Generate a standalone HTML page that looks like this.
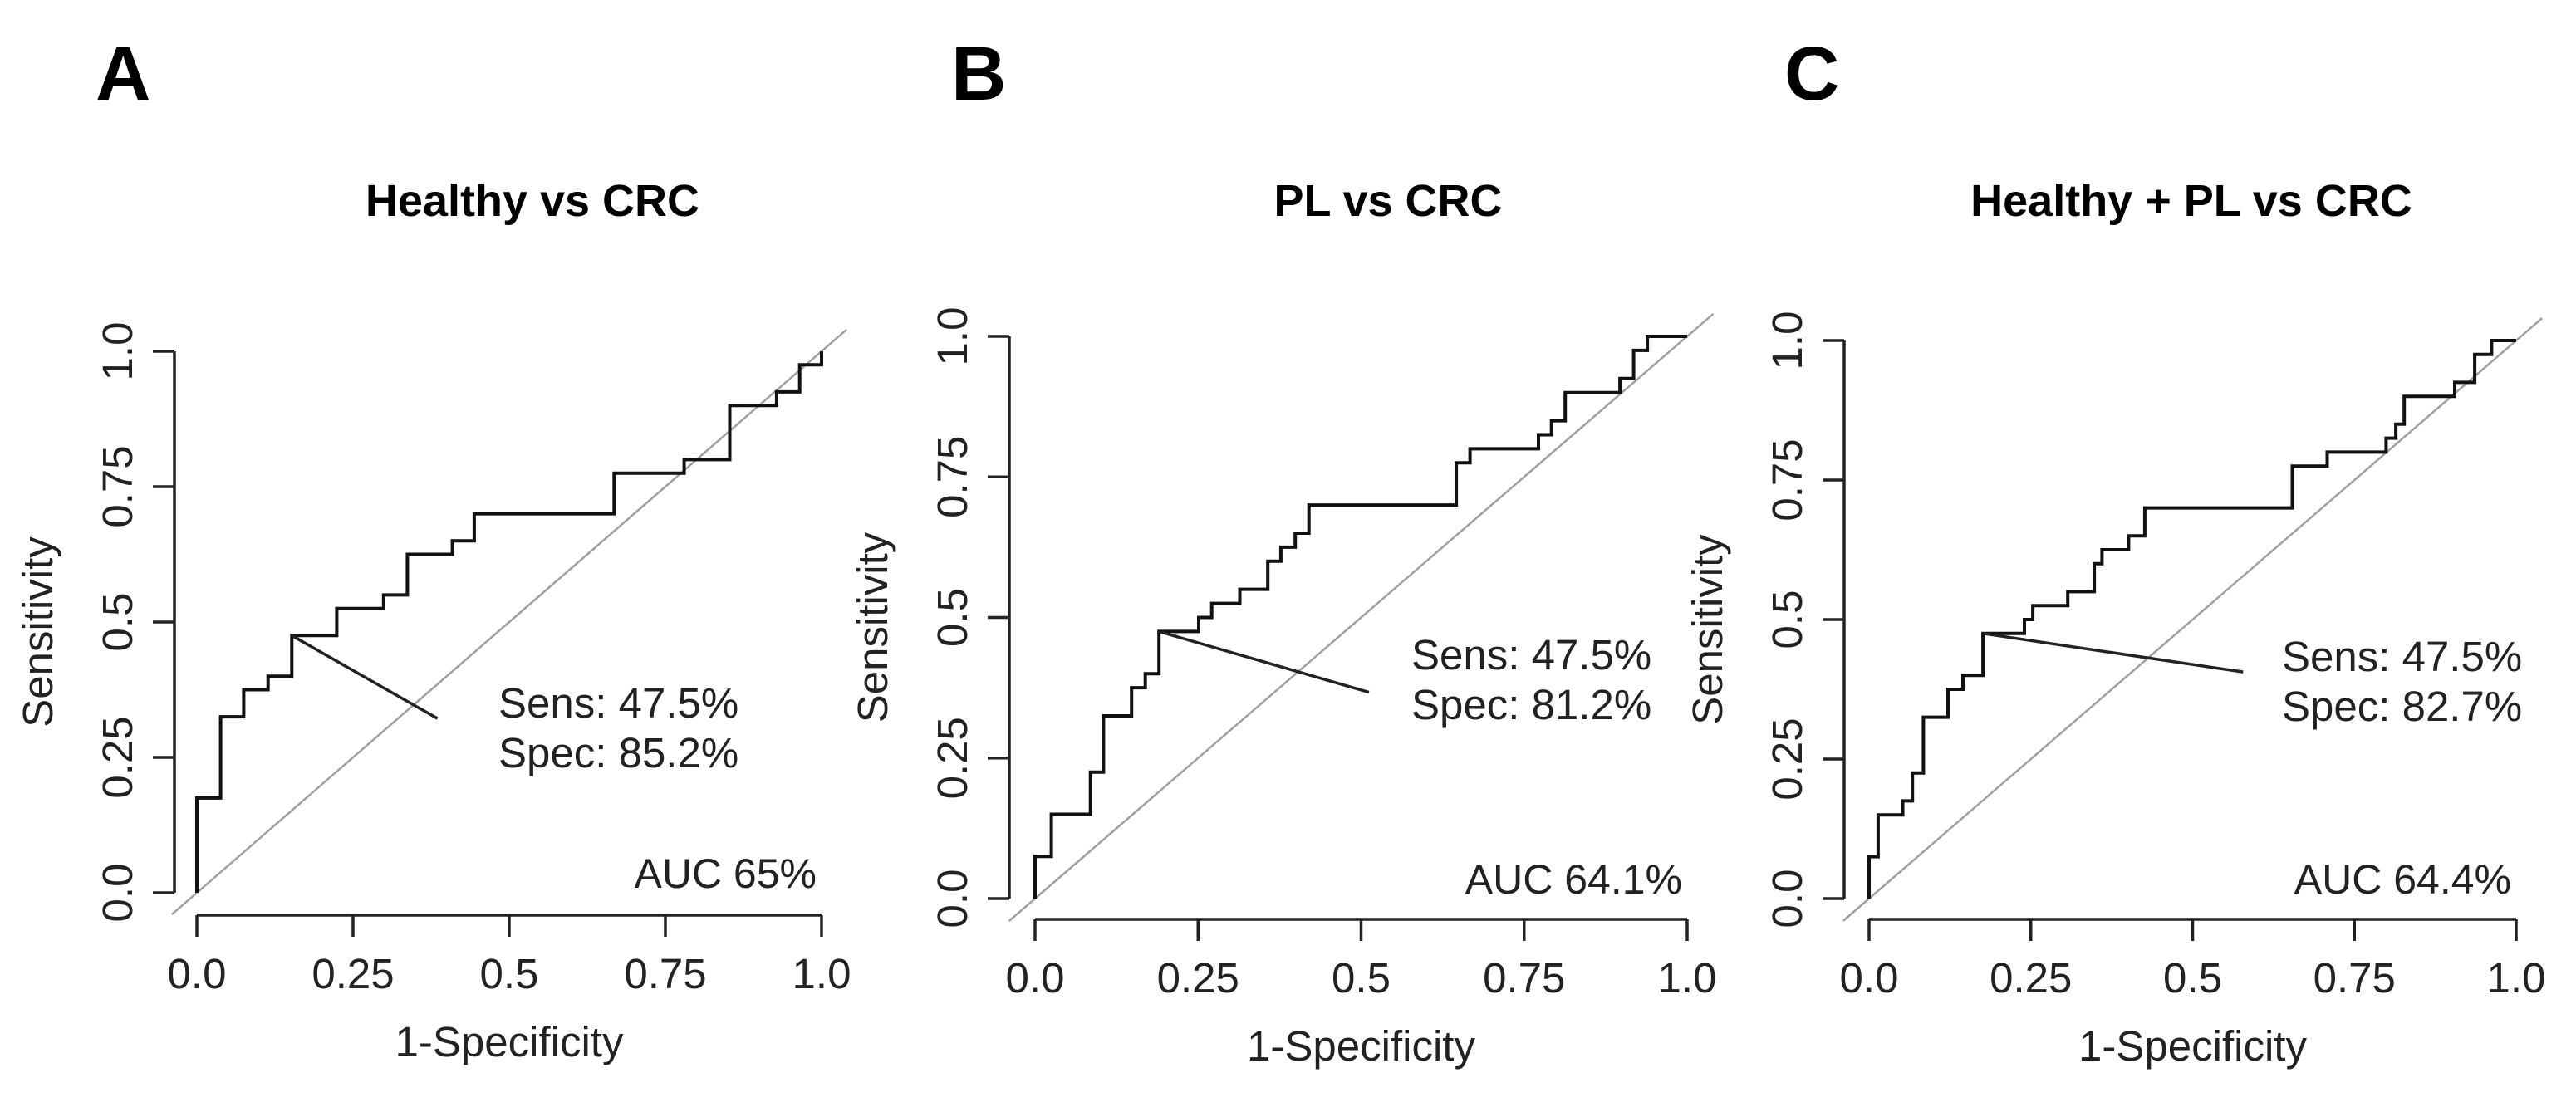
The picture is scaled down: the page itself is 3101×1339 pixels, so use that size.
<!DOCTYPE html>
<html><head><meta charset="utf-8"><style>
html,body{margin:0;padding:0;background:#fff;}
svg{display:block;font-family:"Liberation Sans",Arial,sans-serif;}
</style></head><body>
<svg id="fig" width="3101" height="1339" viewBox="0 0 3101 1339" xmlns="http://www.w3.org/2000/svg">
<text x="115" y="120" font-size="92" font-weight="bold" fill="#000">A</text>
<text x="1145" y="120" font-size="92" font-weight="bold" fill="#000">B</text>
<text x="2148" y="120" font-size="92" font-weight="bold" fill="#000">C</text>
</svg>
<script>
// Panel A: Healthy vs CRC
const fprA  = [0,0,0.038,0.038,0.075,0.075,0.114,0.114,0.152,0.152,0.224,0.224,0.299,0.299,0.337,0.337,0.409,0.409,0.444,0.444,0.668,0.668,0.78,0.78,0.853,0.853,0.928,0.928,0.965,0.965,1.0,1.0];
const sensA = [0,0.175,0.175,0.325,0.325,0.375,0.375,0.4,0.4,0.475,0.475,0.525,0.525,0.55,0.55,0.625,0.625,0.65,0.65,0.7,0.7,0.775,0.775,0.8,0.8,0.9,0.9,0.925,0.925,0.975,0.975,1.0];
// Panel B: PL vs CRC
const fprB  = [0,0,0.025,0.025,0.085,0.085,0.105,0.105,0.148,0.148,0.169,0.169,0.19,0.19,0.251,0.251,0.271,0.271,0.314,0.314,0.357,0.357,0.377,0.377,0.399,0.399,0.42,0.42,0.646,0.646,0.667,0.667,0.772,0.772,0.792,0.792,0.813,0.813,0.897,0.897,0.918,0.918,0.939,0.939,1.0];
const sensB = [0,0.075,0.075,0.15,0.15,0.225,0.225,0.325,0.325,0.375,0.375,0.4,0.4,0.475,0.475,0.5,0.5,0.525,0.525,0.55,0.55,0.6,0.6,0.625,0.625,0.65,0.65,0.7,0.7,0.775,0.775,0.8,0.8,0.825,0.825,0.85,0.85,0.9,0.9,0.925,0.925,0.975,0.975,1.0,1.0];
// Panel C: Healthy + PL vs CRC
const fprC  = [0,0,0.014,0.014,0.052,0.052,0.067,0.067,0.084,0.084,0.122,0.122,0.145,0.145,0.176,0.176,0.24,0.24,0.253,0.253,0.307,0.307,0.348,0.348,0.36,0.36,0.401,0.401,0.426,0.426,0.654,0.654,0.708,0.708,0.799,0.799,0.814,0.814,0.827,0.827,0.905,0.905,0.936,0.936,0.962,0.962,1.0];
const sensC = [0,0.075,0.075,0.15,0.15,0.175,0.175,0.225,0.225,0.325,0.325,0.375,0.375,0.4,0.4,0.475,0.475,0.5,0.5,0.525,0.525,0.55,0.55,0.6,0.6,0.625,0.625,0.65,0.65,0.7,0.7,0.775,0.775,0.8,0.8,0.825,0.825,0.85,0.85,0.9,0.9,0.925,0.925,0.975,0.975,1.0,1.0];
const titles = ["Healthy vs CRC","PL vs CRC","Healthy + PL vs CRC"];
const optX = [0.152,0.19,0.176];
const optY = [0.475,0.475,0.475];
const lineEndX = [0.385,0.512,0.578];
const lineEndY = [0.322,0.367,0.406];
const sensLabels = ["Sens: 47.5%","Sens: 47.5%","Sens: 47.5%"];
const specLabels = ["Spec: 85.2%","Spec: 81.2%","Spec: 82.7%"];
const aucLabels = ["AUC 65%","AUC 64.1%","AUC 64.4%"];
const tickVals = [0,0.25,0.5,0.75,1];
const tickLabels = ["0.0","0.25","0.5","0.75","1.0"];

const NS="http://www.w3.org/2000/svg";
const svg=document.getElementById('fig');
function mk(tag,attrs,parent){const e=document.createElementNS(NS,tag);for(const k in attrs)e.setAttribute(k,attrs[k]);(parent||svg).appendChild(e);return e;}

const layouts=[
 {x0:237,x1:989,y0:1075,y1:423,yax:210,xax:1102,tx:600,ty:864,titleX:641},
 {x0:1246,x1:2031,y0:1082,y1:405,yax:1215,xax:1107,tx:1699,ty:806,titleX:1671},
 {x0:2250,x1:3029,y0:1082,y1:410,yax:2220,xax:1107,tx:2747,ty:808,titleX:2638}
];
const fprs=[fprA,fprB,fprC], senss=[sensA,sensB,sensC];
const keys=['a','b','c'];

layouts.forEach((L,i)=>{
 const sx=v=>L.x0+v*(L.x1-L.x0);
 const sy=v=>L.y0+v*(L.y1-L.y0);
 const g=mk('g',{});
 
 
 const t=mk('text',{x:L.titleX,y:260,'font-size':54,'font-weight':'bold','text-anchor':'middle',fill:'#000'},g);
 t.textContent=titles[i];
 
 
 const d=mk('line',{x1:sx(-0.04),y1:sy(-0.04),x2:sx(1.04),y2:sy(1.04),stroke:'#a0a0a0','stroke-width':2.5},g);
 
 
 const ya=mk('g',{},g);
 
 
 mk('line',{x1:L.yax,y1:sy(0),x2:L.yax,y2:sy(1),stroke:'#222','stroke-width':3.5},ya);
 tickVals.forEach((v,k)=>{
  mk('line',{x1:L.yax-26,y1:sy(v),x2:L.yax,y2:sy(v),stroke:'#222','stroke-width':3.5},ya);
  const tx=L.yax-51;
  const tl=mk('text',{x:tx,y:sy(v),'font-size':51,'text-anchor':'middle',fill:'#222',transform:`rotate(-90 ${tx} ${sy(v)})`},ya);
  tl.textContent=tickLabels[k];
  
  
 });
 const yl=mk('text',{x:L.yax-147,y:(sy(0)+sy(1))/2+12,'font-size':51,'text-anchor':'middle',fill:'#222',transform:`rotate(-90 ${L.yax-147} ${(sy(0)+sy(1))/2+12})`},g);
 yl.textContent='Sensitivity';
 
 
 const xa=mk('g',{},g);
 
 
 mk('line',{x1:sx(0),y1:L.xax,x2:sx(1),y2:L.xax,stroke:'#222','stroke-width':3.5},xa);
 tickVals.forEach((v,k)=>{
  mk('line',{x1:sx(v),y1:L.xax,x2:sx(v),y2:L.xax+26,stroke:'#222','stroke-width':3.5},xa);
  const tl=mk('text',{x:sx(v),y:L.xax+88,'font-size':51,'text-anchor':'middle',fill:'#222'},xa);
  tl.textContent=tickLabels[k];
  
  
 });
 const xl=mk('text',{x:(sx(0)+sx(1))/2,y:L.xax+170,'font-size':51,'text-anchor':'middle',fill:'#222'},g);
 xl.textContent='1-Specificity';
 
 
 const pts=fprs[i].map((f,k)=>sx(f).toFixed(1)+','+sy(senss[i][k]).toFixed(1)).join(' ');
 const c=mk('polyline',{points:pts,fill:'none',stroke:'#111','stroke-width':4,'stroke-linejoin':'miter'},g);
 
 
 const ol=mk('line',{x1:sx(optX[i]),y1:sy(optY[i]),x2:sx(lineEndX[i]),y2:sy(lineEndY[i]),stroke:'#222','stroke-width':3.5},g);
 
 
 const s1=mk('text',{x:L.tx,y:L.ty,'font-size':51,fill:'#222'},g);
 s1.textContent=sensLabels[i];
 
 
 const s2=mk('text',{x:L.tx,y:L.ty+60,'font-size':51,fill:'#222'},g);
 s2.textContent=specLabels[i];
 
 
 const a=mk('text',{x:sx(1)-6,y:sy(0)-6,'font-size':50,'text-anchor':'end',fill:'#222'},g);
 a.textContent=aucLabels[i];
 
 
});
</script>
</body></html>
